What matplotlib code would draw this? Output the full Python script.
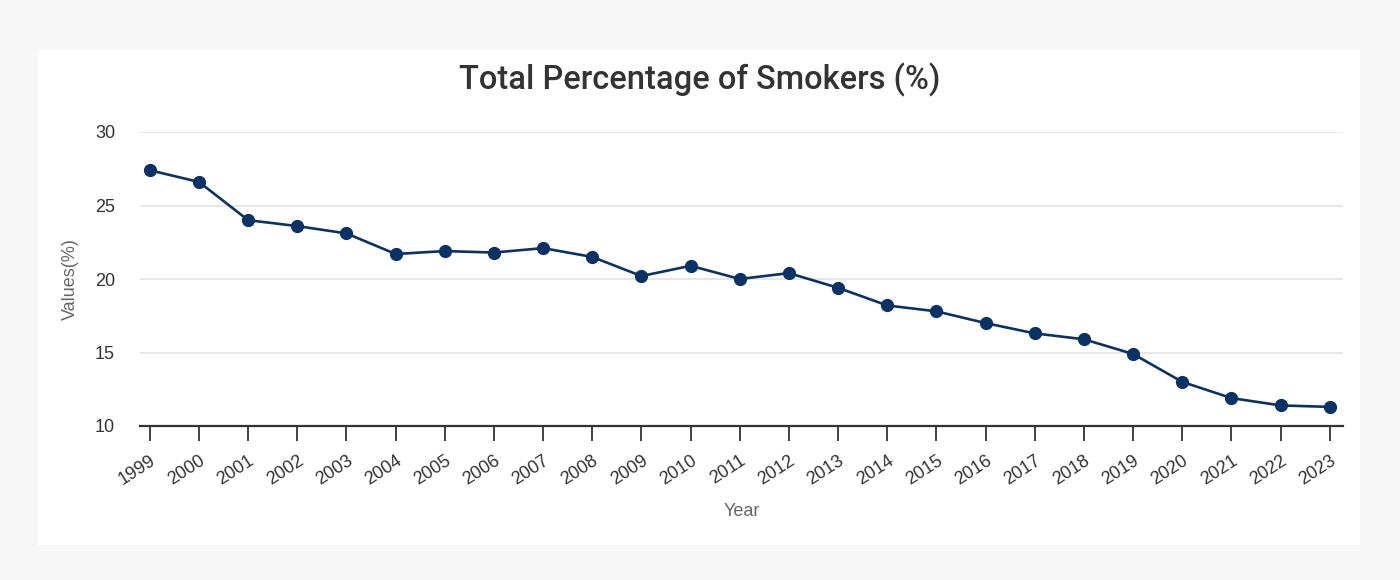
import matplotlib
matplotlib.use("Agg")
import matplotlib.pyplot as plt
from matplotlib.patches import Rectangle

years = list(range(1999, 2024))
values = [27.4, 26.6, 24.0, 23.6, 23.1, 21.7, 21.9, 21.8, 22.1, 21.5,
          20.2, 20.9, 20.0, 20.4, 19.4, 18.2, 17.8, 17.0, 16.3, 15.9,
          14.9, 13.0, 11.9, 11.4, 11.3]
y_ticks = [10, 15, 20, 25, 30]
title = "Total Percentage of Smokers (%)"

plt.rcParams['font.family'] = ['Liberation Sans', 'DejaVu Sans']

fig = plt.figure(figsize=(14, 5.8), dpi=100)
fig.patch.set_facecolor('#f7f7f8')

bg = fig.add_axes([0, 0, 1, 1], zorder=-5)
bg.set_xlim(0, 1400)
bg.set_ylim(580, 0)
bg.axis('off')
bg.add_patch(Rectangle((38, 50), 1360 - 38, 545 - 50, facecolor='white', edgecolor='none'))

ax = fig.add_axes([140/1400, 1-426/580, (1343-140)/1400, (426-132)/580], zorder=1)
ax.set_facecolor('none')
ax.plot(years, values, color='#0b3266', linewidth=1.9, marker='o', markersize=8.5,
        markerfacecolor='#0b3266', markeredgecolor='#0b3266', zorder=3, clip_on=False)

ax.set_ylim(10, 30)
ax.set_xlim(1998.8, 2023.27)
ax.set_yticks(y_ticks)
ax.set_xticks(years)
ax.set_xticklabels([str(y) for y in years], rotation=33, ha='right', rotation_mode='anchor')
ax.grid(axis='y', color='#e3e3e3', linewidth=1.2)
ax.set_axisbelow(True)
for s in ['top', 'right', 'left']:
    ax.spines[s].set_visible(False)
ax.spines['bottom'].set_color('#333333')
ax.spines['bottom'].set_linewidth(1.6)
ax.tick_params(axis='y', length=0, pad=18, labelsize=13, labelcolor='#333333')
ax.tick_params(axis='x', length=11, width=1.3, color='#333333', pad=8,
               labelsize=13, labelcolor='#333333')

ax.set_ylabel('Values(%)', fontsize=13, color='#666666', va='center')
ax.set_xlabel('Year', fontsize=13, color='#666666', va='center')
ax.yaxis.set_label_coords((70 - 140) / 1203, 0.5)
ax.xaxis.set_label_coords(0.5, (426 - 512) / 294)

fig.text(0.5, 1-80/580, title, ha='center', va='center', fontsize=23.5,
         color='#333333', fontweight='medium', family=['Roboto', 'DejaVu Sans'])

fig.savefig('out.png', dpi=100, facecolor=fig.get_facecolor())
